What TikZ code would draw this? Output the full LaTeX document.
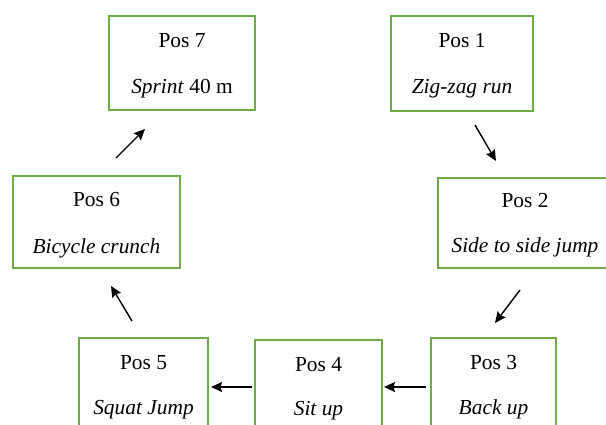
\documentclass[tikz,border=0pt]{standalone}
\usepackage{fontspec}
\setmainfont{Liberation Serif}
\usetikzlibrary{arrows.meta}
\definecolor{boxgreen}{RGB}{112,173,71}
\begin{document}
\begin{tikzpicture}[x=1pt,y=-1pt,
  stationbox/.style={draw=boxgreen, line width=1.4pt, rectangle, inner sep=0pt},
  caption/.style={anchor=base, inner sep=0pt, font=\fontsize{21.4}{25}\selectfont},
  flow/.style={-{Stealth[length=11pt,width=10pt,inset=1.5pt]}, line width=1.4pt, black}]
\useasboundingbox (0,0) rectangle (606,424);
\clip (0,0) rectangle (606,424);

% stations
\node[stationbox, minimum width=146, minimum height=94] (p7) at (182,63) {};
\node[stationbox, minimum width=142, minimum height=95] (p1) at (462,63.5) {};
\node[stationbox, minimum width=174, minimum height=90] (p2) at (525,223) {};
\node[stationbox, minimum width=167, minimum height=92] (p6) at (96.5,222) {};
\node[stationbox, minimum width=129, minimum height=93] (p5) at (143.5,384.5) {};
\node[stationbox, minimum width=127, minimum height=93] (p4) at (318.5,386.5) {};
\node[stationbox, minimum width=125, minimum height=93] (p3) at (493.5,384.5) {};

% station texts
\node[caption] (p7a) at ([yshift=-32pt]p7.north) {Pos 7};
\node[caption] (p7b) at ([yshift=-78pt]p7.north) {\textit{Sprint} 40 m};
\node[caption] (p1a) at ([yshift=-32pt]p1.north) {Pos 1};
\node[caption] (p1b) at ([yshift=-78pt]p1.north) {\textit{Zig-zag run}};
\node[caption] (p2a) at ([yshift=-30pt]p2.north) {Pos 2};
\node[caption] (p2b) at ([yshift=-75pt]p2.north) {\textit{Side to side jump}};
\node[caption] (p6a) at ([yshift=-31pt]p6.north) {Pos 6};
\node[caption] (p6b) at ([yshift=-78pt]p6.north) {\textit{Bicycle crunch}};
\node[caption] (p5a) at ([yshift=-32pt]p5.north) {Pos 5};
\node[caption] (p5b) at ([yshift=-77pt]p5.north) {\textit{Squat Jump}};
\node[caption] (p4a) at ([yshift=-32pt]p4.north) {Pos 4};
\node[caption] (p4b) at ([yshift=-76pt]p4.north) {\textit{Sit up}};
\node[caption] (p3a) at ([yshift=-32pt]p3.north) {Pos 3};
\node[caption] (p3b) at ([yshift=-77pt]p3.north) {\textit{Back up}};

% arrow end points between the stations
\coordinate (s12) at (475,125);  \coordinate (e12) at (496,161);
\coordinate (s23) at (520,290);  \coordinate (e23) at (495,323);
\coordinate (s34) at (426,387);  \coordinate (e34) at (384,387);
\coordinate (s45) at (252,387);  \coordinate (e45) at (211,387);
\coordinate (s56) at (132,321);  \coordinate (e56) at (111,286);
\coordinate (s67) at (116,158);  \coordinate (e67) at (145,129);

\draw[flow] (s12) -- (e12);
\draw[flow] (s23) -- (e23);
\draw[flow] (s34) -- (e34);
\draw[flow] (s45) -- (e45);
\draw[flow] (s56) -- (e56);
\draw[flow] (s67) -- (e67);
\end{tikzpicture}
\end{document}
